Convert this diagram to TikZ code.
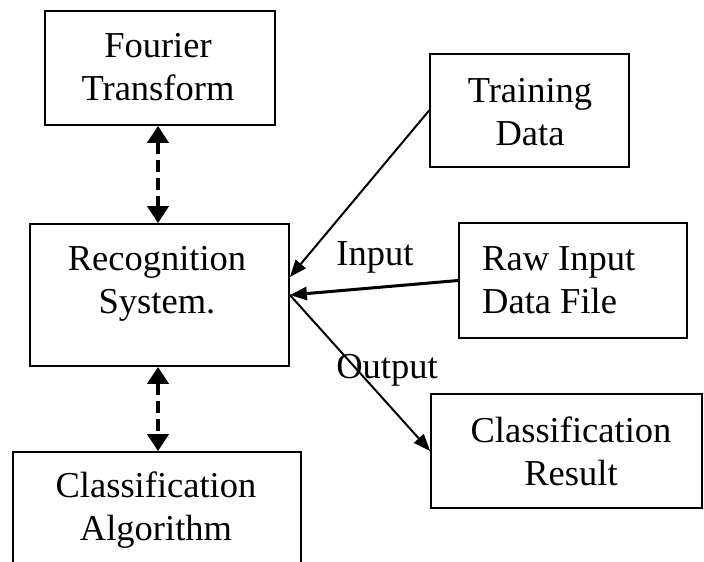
\documentclass[tikz,border=0pt]{standalone}
\usepackage{fontspec}
\setmainfont{Liberation Serif}
\usetikzlibrary{arrows.meta}
\tikzset{
  box/.style={draw, line width=1.8pt, inner sep=0pt},
  boxtext/.style={inner sep=0pt, align=center, font=\fontsize{36.5}{43}\selectfont},
  tag/.style={inner sep=0pt, anchor=base, font=\fontsize{36.5}{43}\selectfont},
  flow/.style={line width=2pt, -{Triangle[length=17pt,width=13pt]}},
  link/.style={line width=4pt, dash pattern=on 12pt off 6pt,
    {Triangle[length=17pt,width=21pt]}-{Triangle[length=17pt,width=21pt]}},
}
\begin{document}
\begin{tikzpicture}[x=1pt,y=-1pt]
\useasboundingbox (0,0) rectangle (704,562);

% boxes
\node[box, minimum width=230pt, minimum height=114pt] (four)  at (160,68)    {};
\node[box, minimum width=199pt, minimum height=113pt] (train) at (529.5,110.5) {};
\node[box, minimum width=228pt, minimum height=115pt] (raw)   at (573,280.5) {};
\node[box, minimum width=259pt, minimum height=142pt] (rec)   at (159.5,295) {};
\node[box, minimum width=271pt, minimum height=114pt] (res)   at (566.5,451) {};
\node[box, minimum width=288pt, minimum height=138pt] (alg)   at (157,521)   {};

% box texts
\node[boxtext] (four-text)  at (158,70)  {Fourier\strut\\Transform\strut};
\node[boxtext] (train-text) at (530,115) {Training\strut\\Data\strut};
\node[boxtext, align=left, anchor=west] (raw-text) at (482,283) {Raw Input\strut\\Data File\strut};
\node[boxtext] (rec-text)   at (157,283) {Recognition\strut\\System.\strut};
\node[boxtext] (res-text)   at (571,455) {Classification\strut\\Result\strut};
\node[boxtext] (alg-text)   at (156,510) {Classification\strut\\Algorithm\strut};

% edge labels
\node[tag] (input)  at (375,265) {Input};
\node[tag] (output) at (387,378) {Output};

% data flow
\draw[flow] (train.west) -- ([yshift=18pt]rec.east);
\draw[flow, line width=3pt] (raw.west) -- (rec.east);
\draw[flow] (rec.east) -- (res.west);

% two-way links on the left column
\coordinate (axis) at (158,0);
\draw[link] (four.south -| axis) -- (rec.north -| axis);
\draw[link] (rec.south -| axis) -- (alg.north -| axis);
\end{tikzpicture}
\end{document}
